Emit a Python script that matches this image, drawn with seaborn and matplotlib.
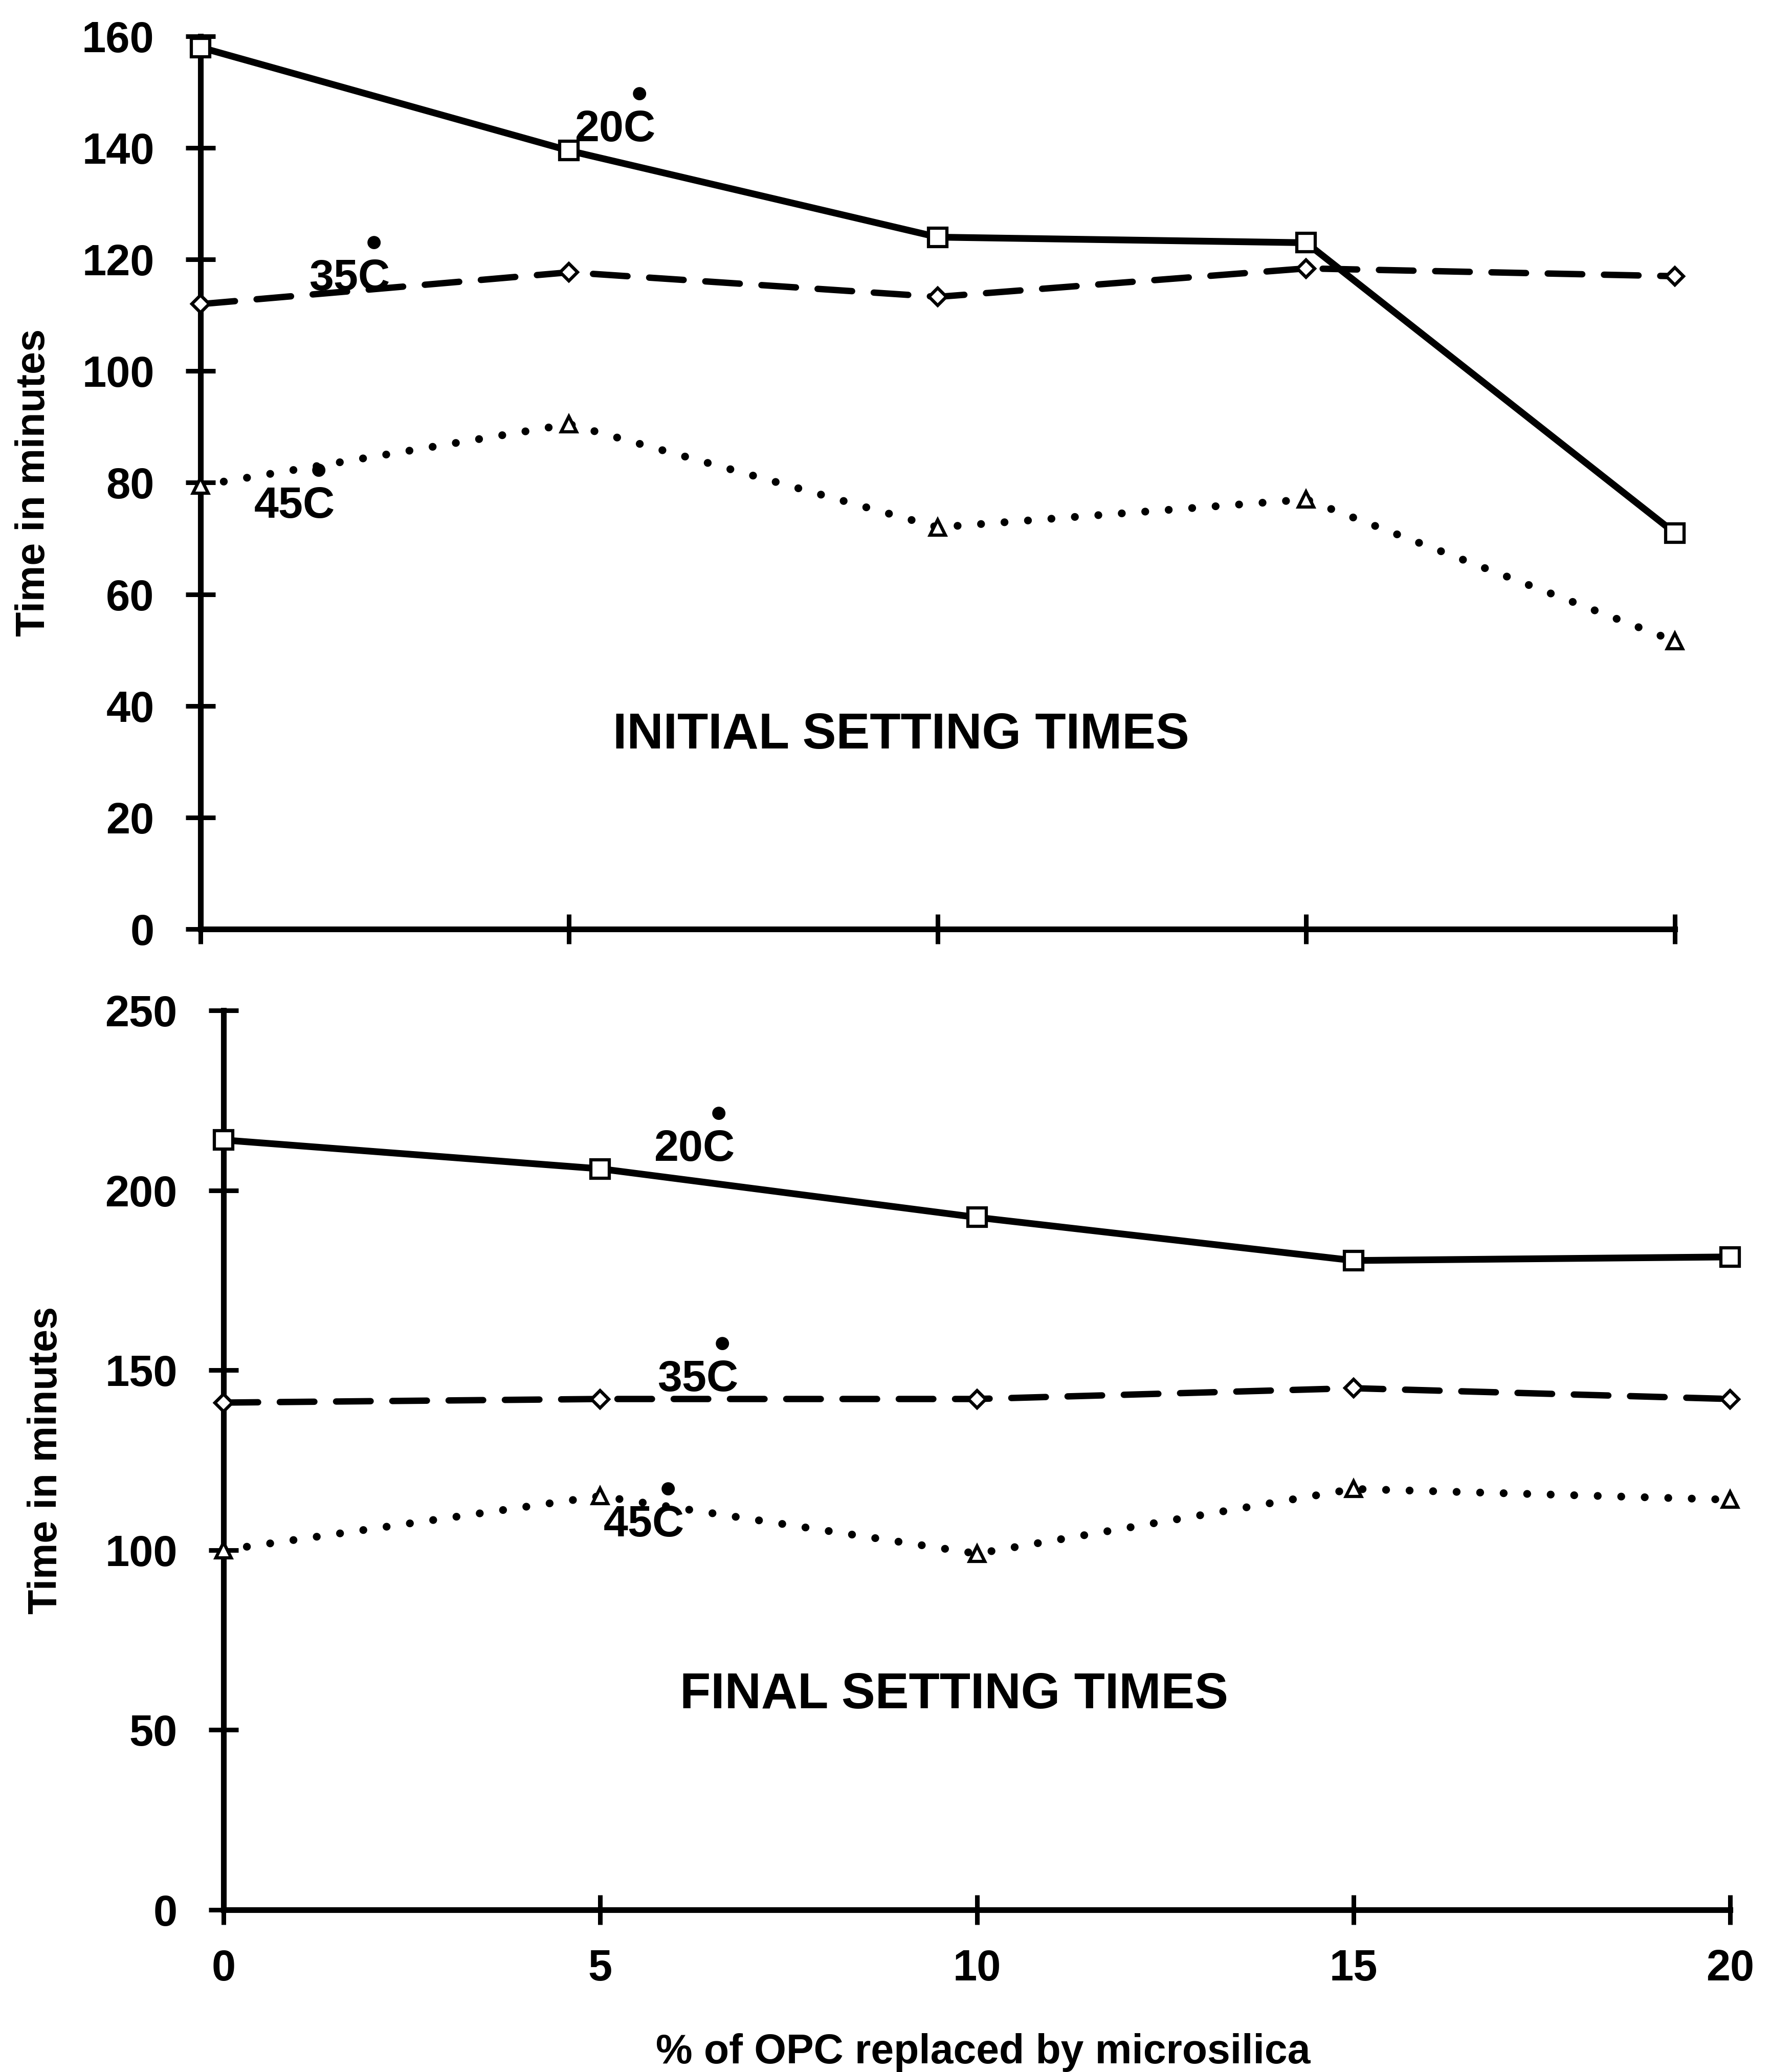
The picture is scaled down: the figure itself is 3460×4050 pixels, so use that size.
import matplotlib
matplotlib.use("Agg")
import matplotlib.pyplot as plt
import seaborn as sns
import numpy as np

# ---- data ----
pct = [0, 5, 10, 15, 20]
temps = ["20C", "35C", "45C"]

initial_20C = [158, 139.5, 124, 123, 71]
initial_35C = [112, 117.7, 113.3, 118.4, 117]
initial_45C = [79.5, 90.5, 72, 77, 51.6]

final_20C = [214, 206, 192.5, 180.5, 181.5]
final_35C = [141, 142, 142, 145, 142]
final_45C = [100, 115, 99, 117, 114]

initial_ticks = [0, 20, 40, 60, 80, 100, 120, 140, 160]
final_ticks = [0, 50, 100, 150, 200, 250]
x_ticks = [0, 5, 10, 15, 20]

top_title = "INITIAL SETTING TIMES"
bottom_title = "FINAL SETTING TIMES"
ylabel = "Time in minutes"
xlabel = "% of OPC replaced by microsilica"
series_labels = {
    "20C": "20$\\overset{\u25cf}{\\mathrm{C}}$",
    "35C": "35$\\overset{\u25cf}{\\mathrm{C}}$",
    "45C": "45$\\overset{\u25cf}{\\mathrm{C}}$",
}

sns.set_theme(style="white")
plt.rcParams["font.family"] = ["Liberation Sans", "DejaVu Sans"]
plt.rcParams["font.weight"] = "bold"
plt.rcParams["text.color"] = "black"
plt.rcParams["axes.labelcolor"] = "black"
plt.rcParams["lines.dash_capstyle"] = "round"
plt.rcParams["lines.solid_capstyle"] = "round"
plt.rcParams["mathtext.fontset"] = "custom"
plt.rcParams["mathtext.rm"] = "Liberation Sans:bold"
plt.rcParams["mathtext.bf"] = "Liberation Sans:bold"
plt.rcParams["mathtext.it"] = "Liberation Sans:bold:italic"
plt.rcParams["mathtext.fallback"] = "stixsans"

fig = plt.figure(figsize=(34.6, 40.5), dpi=100)
ax1 = fig.add_axes([0.1133, 0.5516, 0.9462 - 0.1133, 0.9825 - 0.5516])
ax2 = fig.add_axes([0.1263, 0.0783, 0.9775 - 0.1263, 0.5123 - 0.0783])

styles = {
    "20C": dict(linestyle="-", marker="s", markersize=26, lw=9.5),
    "35C": dict(linestyle=(0, (5.4, 3.4)), marker="D", markersize=17, lw=9),
    "45C": dict(linestyle=(0, (0.01, 3.0)), marker="^", markersize=22, lw=11),
}

def draw(ax, series):
    for t, vals in zip(temps, series):
        st = styles[t]
        sns.lineplot(x=pct, y=vals, ax=ax, color="black", linewidth=st["lw"],
                     linestyle=st["linestyle"], marker=st["marker"],
                     markersize=st["markersize"], markerfacecolor="white",
                     markeredgecolor="black", markeredgewidth=4.5,
                     clip_on=False, zorder=3)

draw(ax1, [initial_20C, initial_35C, initial_45C])
draw(ax2, [final_20C, final_35C, final_45C])

for ax, ticks, ymax in [(ax1, initial_ticks, 160), (ax2, final_ticks, 250)]:
    ax.set_xlim(0, 20)
    ax.set_ylim(0, ymax)
    ax.set_xticks(x_ticks)
    ax.set_yticks(ticks)
    for s in ["top", "right"]:
        ax.spines[s].set_visible(False)
    for s in ["left", "bottom"]:
        ax.spines[s].set_linewidth(8)
        ax.spines[s].set_color("black")
    ax.tick_params(axis="both", direction="inout", length=42, width=6.5,
                   colors="black", labelsize=61, bottom=True, left=True)
    ax.tick_params(axis="y", pad=44)
    ax.tick_params(axis="x", pad=34)
    ax.set_facecolor("white")
    for lbl in ax.get_yticklabels() + ax.get_xticklabels():
        lbl.set_fontweight("bold")

ax1.tick_params(axis="x", labelbottom=False)

ax1.set_ylabel(ylabel, fontsize=57, fontweight="bold")
ax1.yaxis.set_label_coords(-0.100, 0.5)
ax2.set_ylabel(ylabel, fontsize=57, fontweight="bold")
ax2.yaxis.set_label_coords(-0.105, 0.5)
ax2.set_xlabel(xlabel, fontsize=58, fontweight="bold")
ax2.xaxis.set_label_coords(0.504, -0.137)

ax1.text(9.5, 34.7, top_title, fontsize=71, fontweight="bold", ha="center", va="center")
ax2.text(9.7, 59.7, bottom_title, fontsize=71, fontweight="bold", ha="center", va="center")

# series labels (positioned by baseline)
label_pos_top = {"20C": (5.07, 141.1), "35C": (1.47, 114.4), "45C": (0.72, 73.6)}
label_pos_bot = {"20C": (5.71, 208.1), "35C": (5.76, 144.0), "45C": (5.04, 103.6)}
for ax, pos in [(ax1, label_pos_top), (ax2, label_pos_bot)]:
    for t in temps:
        x, y = pos[t]
        ax.text(x, y, series_labels[t], fontsize=62, fontweight="bold",
                ha="left", va="baseline", zorder=5)

fig.savefig("out.png", dpi=100, facecolor="white")
